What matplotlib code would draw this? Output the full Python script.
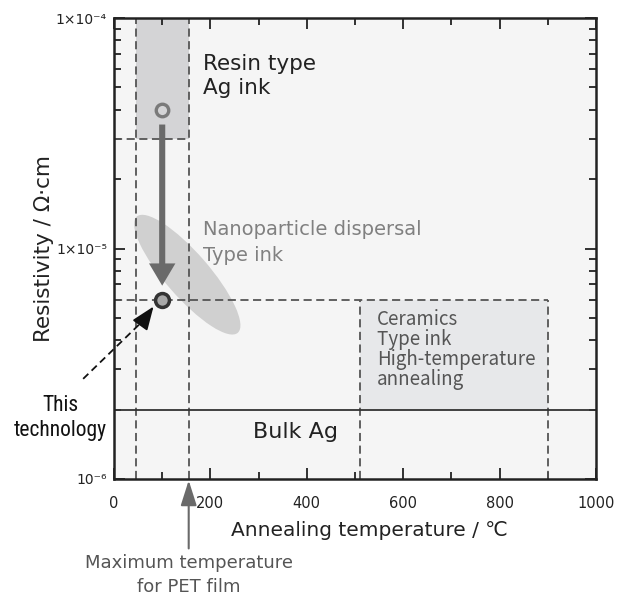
import matplotlib
matplotlib.use("Agg")
import matplotlib.pyplot as plt
from matplotlib.patches import Ellipse, Rectangle
from matplotlib.ticker import MultipleLocator, LogLocator, NullFormatter, FixedLocator, FixedFormatter
import matplotlib.transforms as mtransforms

plt.rcParams["font.family"] = ["DejaVu Sans", "Noto Sans CJK JP"]

# data
X_LIM = [0, 1000]
Y_LIM = [1e-6, 1e-4]
Y_MAJOR = [1e-6, 1e-5, 1e-4]
Y_LABELS = ["10⁻⁶", "1×10⁻⁵", "1×10⁻⁴"]

RESIN_X = [45, 155]
RESIN_Y = [3e-5, 1e-4]
CERAMIC_X = [510, 900]
CERAMIC_Y = [2e-6, 6e-6]
BULK_AG = 2e-6
PET_MAX = 155
NANO_CENTER = [152, 7.7e-6]
RESIN_POINT = [100, 4e-5]
TECH_POINT = [100, 6e-6]
ARROW_Y = [3.45e-5, 6.9e-6]

DASH = dict(color="#555555", linewidth=1.3, linestyle=(0, (4.5, 2.5)), zorder=3)
INK = "#222222"

fig = plt.figure(figsize=(6.22, 5.99), dpi=100)
ax = fig.add_axes([114 / 622, 120 / 599, 482 / 622, 461 / 599])
ax.set_facecolor("#f5f5f5")
ax.set_yscale("log")
ax.set_xlim(X_LIM)
ax.set_ylim(Y_LIM)

# shaded regions
ax.add_patch(Rectangle((RESIN_X[0], RESIN_Y[0]), RESIN_X[1] - RESIN_X[0], RESIN_Y[1] - RESIN_Y[0],
                       facecolor="#d4d4d6", edgecolor="none", zorder=1))
ax.add_patch(Rectangle((CERAMIC_X[0], CERAMIC_Y[0]), CERAMIC_X[1] - CERAMIC_X[0], CERAMIC_Y[1] - CERAMIC_Y[0],
                       facecolor="#e7e8ea", edgecolor="none", zorder=1))

# nanoparticle ellipse, sized in inches and anchored at a data point
trans = fig.dpi_scale_trans + mtransforms.ScaledTranslation(NANO_CENTER[0], NANO_CENTER[1], ax.transData)
ax.add_patch(Ellipse((0, 0), 1.54, 0.44, angle=-49, transform=trans,
                     facecolor="#d0d0d0", edgecolor="none", zorder=2))

# dashed boundaries
ax.axvline(RESIN_X[0], **DASH)
ax.axvline(RESIN_X[1], **DASH)
ax.plot([X_LIM[0], RESIN_X[1]], [RESIN_Y[0], RESIN_Y[0]], **DASH)
ax.plot([X_LIM[0], CERAMIC_X[1]], [CERAMIC_Y[1], CERAMIC_Y[1]], **DASH)
ax.plot([CERAMIC_X[0], CERAMIC_X[0]], [Y_LIM[0], CERAMIC_Y[1]], **DASH)
ax.plot([CERAMIC_X[1], CERAMIC_X[1]], [Y_LIM[0], CERAMIC_Y[1]], **DASH)

# bulk Ag line
ax.axhline(BULK_AG, color="#333333", linewidth=1.3, zorder=3)

# big gray arrow
ax.annotate("", xy=(RESIN_POINT[0], ARROW_Y[1]), xytext=(RESIN_POINT[0], ARROW_Y[0]),
            arrowprops=dict(arrowstyle="simple,head_width=0.95,head_length=0.8,tail_width=0.22",
                            mutation_scale=20, facecolor="#6a6a6a", edgecolor="none",
                            shrinkA=0, shrinkB=0), zorder=4)

# points
ax.plot(*RESIN_POINT, marker="o", markersize=9, markerfacecolor="#d4d4d6",
        markeredgecolor="#7a7a7a", markeredgewidth=2.4, zorder=5)
ax.plot(*TECH_POINT, marker="o", markersize=10, markerfacecolor="#a8a8a8",
        markeredgecolor="#333333", markeredgewidth=2.5, zorder=5)

# region labels
ax.text(185, 5.6e-5, "Resin type\nAg ink", fontsize=15.5, color=INK,
        va="center", ha="left", linespacing=1.25, zorder=6)
ax.text(185, 1.06e-5, "Nanoparticle dispersal\nType ink", fontsize=14, color="#808080",
        va="center", ha="left", linespacing=1.5, zorder=6)
ax.text(545, 5.45e-6, "Ceramics\nType ink\nHigh-temperature\nannealing", fontsize=13.5,
        family=["Noto Sans CJK JP", "DejaVu Sans"],
        color="#555555", va="top", ha="left", linespacing=0.94, zorder=6)
ax.text(288, 1.6e-6, "Bulk Ag", fontsize=16, color=INK, va="center", ha="left", zorder=6)

# "This technology" dashed pointer
tech_start = (-64, 2.72e-6)
head_from = (62, 4.9e-6)
ax.plot([tech_start[0], head_from[0]], [tech_start[1], head_from[1]], color="#111111",
        linewidth=1.3, linestyle=(0, (4, 2.5)), clip_on=False, zorder=6)
ax.annotate("", xy=(82, 5.6e-6), xytext=head_from, annotation_clip=False,
            arrowprops=dict(arrowstyle="-|>,head_width=0.35,head_length=0.9", mutation_scale=16,
                            color="#111111", linewidth=1.3, shrinkA=0, shrinkB=0), zorder=6)
ax.text(-112, 1.84e-6, "This\ntechnology", fontsize=15.5, color="#111111",
        family=["DejaVu Sans Condensed", "Roboto Condensed", "Liberation Sans"],
        fontstretch="condensed", fontweight="normal",
        ha="center", va="center", linespacing=1.2, clip_on=False)

# PET limit arrow
ax.annotate("Maximum temperature\nfor PET film", xy=(PET_MAX, Y_LIM[0]), xycoords="data",
            xytext=(0, -54), textcoords="offset points", ha="center", va="top",
            fontsize=13, color="#555555", linespacing=1.4, annotation_clip=False,
            arrowprops=dict(arrowstyle="-|>,head_width=0.35,head_length=1.1", mutation_scale=14,
                            color="#6a6a6a", linewidth=1.5, shrinkA=2, shrinkB=1))

# axes styling
ax.xaxis.set_major_locator(MultipleLocator(200))
ax.xaxis.set_minor_locator(MultipleLocator(100))
ax.yaxis.set_major_locator(FixedLocator(Y_MAJOR))
ax.yaxis.set_major_formatter(FixedFormatter(Y_LABELS))
ax.yaxis.set_minor_locator(LogLocator(base=10, subs=range(2, 10)))
ax.yaxis.set_minor_formatter(NullFormatter())
ax.tick_params(which="both", direction="in", top=True, right=True, width=1.3, color=INK)
ax.tick_params(which="major", length=8)
ax.tick_params(which="minor", length=5)
ax.tick_params(axis="x", labelsize=10.5, pad=12, labelcolor=INK)
ax.tick_params(axis="y", labelsize=10, pad=5, labelcolor=INK)
for s in ax.spines.values():
    s.set_linewidth(1.8)
    s.set_color(INK)
    s.set_zorder(7)

ax.set_xlabel("Annealing temperature / ℃", fontsize=14.5, color=INK)
ax.set_ylabel("Resistivity / Ω·cm", fontsize=15.5, color=INK)
ax.xaxis.set_label_coords((369 - 114) / 482, -0.092)
ax.yaxis.set_label_coords(-0.125, 0.5)

fig.savefig("out.png", dpi=100)
